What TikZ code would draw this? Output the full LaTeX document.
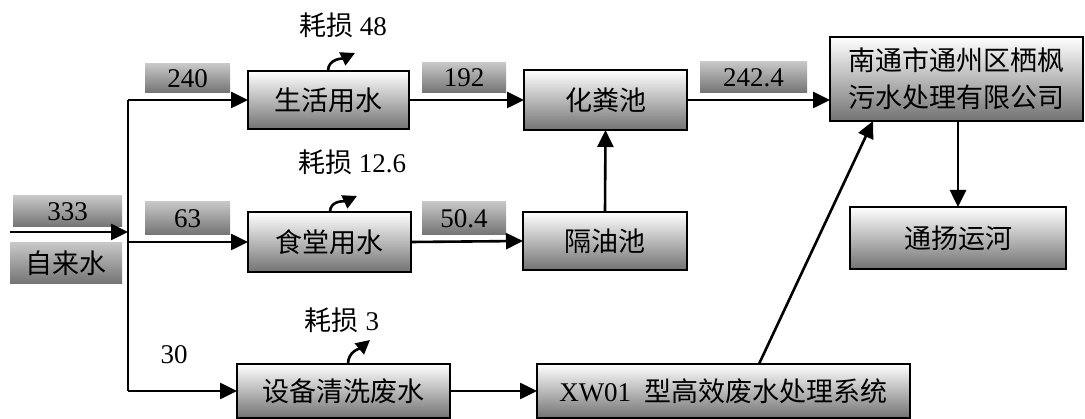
\documentclass[tikz,border=0pt]{standalone}
\usepackage{fontspec}
\setmainfont{Liberation Serif}
\newfontfamily\cjk{Noto Sans CJK SC}
\usetikzlibrary{arrows.meta,calc}
\begin{document}
\begin{tikzpicture}[x=1pt,y=-1pt,
  every node/.style={inner sep=0pt,outer sep=0pt,font=\fontsize{27}{37}\selectfont},
  box/.style={draw=black,line width=1.8pt,top color=white,bottom color=black!55,align=center},
  lab/.style={top color=black!22,middle color=black!6,bottom color=black!55},
  arr/.style={line width=2.6pt,-{Triangle[length=17pt,width=16pt]}},
  larr/.style={line width=2.6pt,-{Triangle[length=14pt,width=14pt]}},
  ln/.style={line width=2.6pt}]
\useasboundingbox (0,0) rectangle (1085,419);
% left source
\node[lab,minimum width=109pt,minimum height=31pt] (l333) at (67.5,211.5) {333};
\node[lab,minimum width=112pt,minimum height=41pt] (zls) at (66,263.5) {\cjk 自来水};
\coordinate (src) at (10,232);
\coordinate (bus) at (128,232);
\coordinate (btop) at (128,100);
\coordinate (bmid) at (128,242);
\coordinate (bbot) at (128,391);
\draw[arr] (src) -- (bus);
\draw[ln] (btop) -- (bbot);
% boxes
\node[box,minimum width=161pt,minimum height=58pt] (sh) at (328.5,100) {\cjk 生活用水};
\node[box,minimum width=163pt,minimum height=60pt] (hfc) at (605.5,100) {\cjk 化粪池};
\node[box,minimum width=253pt,minimum height=84pt] (nt) at (956.5,79) {\cjk 南通市通州区栖枫\\\cjk 污水处理有限公司};
\node[box,minimum width=216pt,minimum height=62pt] (tyh) at (958,238) {\cjk 通扬运河};
\node[box,minimum width=163pt,minimum height=60pt] (st) at (329.5,242) {\cjk 食堂用水};
\node[box,minimum width=164pt,minimum height=58pt] (gyc) at (605,241) {\cjk 隔油池};
\node[box,minimum width=213pt,minimum height=54pt] (sb) at (343.5,391) {\cjk 设备清洗废水};
\node[box,minimum width=373pt,minimum height=54pt] (xw) at (723.5,391) {XW01\ \ {\cjk 型高效废水处理系统}};
% labels
\node[lab,minimum width=85pt,minimum height=29pt] (l240) at (187.5,78.5) {240};
\node[lab,minimum width=84pt,minimum height=30pt] (l192) at (464,78) {192};
\node[lab,minimum width=107pt,minimum height=31pt] (l242) at (753.5,77.5) {242.4};
\node[lab,minimum width=85pt,minimum height=33pt] (l63) at (187.5,218.5) {63};
\node[lab,minimum width=84pt,minimum height=33pt] (l504) at (464,218.5) {50.4};
\node (l30) at (174,355) {30};
\node (h48) at (343,25) {{\cjk 耗损} 48};
\node (h126) at (352,162) {{\cjk 耗损} 12.6};
\node (h3) at (342,320) {{\cjk 耗损} 3};
% connectors
\draw[arr] (btop) -- (sh.west);
\draw[arr] (bmid) -- (st.west);
\draw[arr] (bbot) -- (sb.west);
\draw[arr] (sh.east) -- (hfc.west);
\draw[arr] (st.east) -- (gyc.west);
\draw[arr] (gyc.north) -- (hfc.south);
\draw[arr] (hfc.east) -- (hfc.east -| nt.west);
\draw[arr] (nt.south -| tyh.north) -- (tyh.north);
\draw[arr] (sb.east) -- (xw.west);
\draw[arr] ([xshift=35.5pt]xw.north) -- ([xshift=-83.5pt]nt.south);
% loss arrows
\draw[larr] ([xshift=-0.5pt]sh.north) to[out=90,in=205] ++(27,-18);
\draw[larr] ([xshift=0.5pt]st.north) to[out=90,in=205] ++(27,-16);
\draw[larr] ([xshift=4.5pt]sb.north) to[out=90,in=220] ++(22,-24);
\end{tikzpicture}
\end{document}
